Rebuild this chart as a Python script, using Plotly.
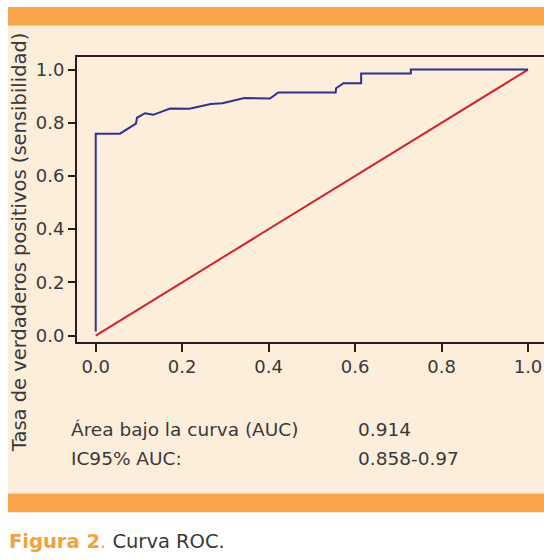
import plotly.graph_objects as go

# ROC curve
fpr = [0.0, 0.0, 0.056, 0.093, 0.0955, 0.114, 0.133, 0.172, 0.2165, 0.266, 0.293,
       0.344, 0.403, 0.4225, 0.555, 0.556, 0.573, 0.614, 0.614, 0.729, 0.729, 1.0]
tpr = [0.015, 0.759, 0.759, 0.797, 0.819, 0.836, 0.830, 0.854, 0.853, 0.871, 0.874,
       0.893, 0.891, 0.914, 0.914, 0.930, 0.949, 0.949, 0.985, 0.985, 1.0, 1.0]
ref_x = [0.0, 1.0]
ref_y = [0.0, 1.0]
tick_vals = [0.0, 0.2, 0.4, 0.6, 0.8, 1.0]
tick_text = ["0.0", "0.2", "0.4", "0.6", "0.8", "1.0"]
stats_labels = ["Área bajo la curva (AUC)", "IC95% AUC:"]
stats_values = ["0.914", "0.858-0.97"]

W, H = 544, 560
FONT = "DejaVu Sans"
DARK = "#231f20"
TXT = "#3b3838"
ORANGE = "#f9a54a"
CREAM = "#fdeedb"

def px(x):
    return x / W

def py(y):
    return 1 - y / H

fig = go.Figure()
fig.add_trace(go.Scatter(x=ref_x, y=ref_y, mode="lines",
                         line=dict(color="#d2232a", width=2), showlegend=False))
fig.add_trace(go.Scatter(x=fpr, y=tpr, mode="lines",
                         line=dict(color="#2e3192", width=2), showlegend=False))

shapes = [
    dict(type="rect", xref="paper", yref="paper", x0=px(8), x1=1, y0=py(26), y1=py(7),
         fillcolor=ORANGE, line=dict(width=0), layer="below"),
    dict(type="rect", xref="paper", yref="paper", x0=px(8), x1=1, y0=py(497), y1=py(26),
         fillcolor=CREAM, line=dict(width=0), layer="below"),
    dict(type="rect", xref="paper", yref="paper", x0=px(8), x1=1, y0=py(516), y1=py(497),
         fillcolor=ORANGE, line=dict(width=0), layer="below"),
]

annotations = [
    dict(text="Tasa de verdaderos positivos (sensibilidad)", xref="paper", yref="paper",
         x=px(19), y=py(244), textangle=-90, showarrow=False,
         font=dict(family=FONT, size=19.5, color=TXT), xanchor="center", yanchor="middle"),
    dict(text="<span style='color:#f7a03c'><b>Figura 2</b>.</span> Curva ROC.",
         xref="paper", yref="paper", x=px(7), y=py(545), showarrow=False,
         xanchor="left", yanchor="middle", font=dict(family=FONT, size=19.5, color=TXT)),
]
for i, (lab, val) in enumerate(zip(stats_labels, stats_values)):
    yy = py(433 + 29 * i)
    annotations.append(dict(text=lab, xref="paper", yref="paper", x=px(69), y=yy,
                            showarrow=False, xanchor="left", yanchor="middle",
                            font=dict(family=FONT, size=18.5, color=TXT)))
    annotations.append(dict(text=val, xref="paper", yref="paper", x=px(356), y=yy,
                            showarrow=False, xanchor="left", yanchor="middle",
                            font=dict(family=FONT, size=18.5, color=TXT)))

fig.update_layout(
    width=W, height=H,
    margin=dict(l=0, r=0, t=0, b=0),
    paper_bgcolor="white",
    plot_bgcolor="rgba(0,0,0,0)",
    shapes=shapes,
    annotations=annotations,
    xaxis=dict(domain=[px(77), 1], range=[-0.0433, 1.037], tickvals=tick_vals,
               ticktext=tick_text, showline=True, linecolor=DARK, linewidth=2,
               mirror=True, ticks="outside", ticklen=8, tickwidth=1.5, tickcolor=DARK,
               showgrid=False, zeroline=False,
               tickfont=dict(family=FONT, size=18, color=TXT)),
    yaxis=dict(domain=[py(344), py(57)], range=[-0.0225, 1.049], tickvals=tick_vals,
               ticktext=tick_text, showline=True, linecolor=DARK, linewidth=2,
               mirror=False, ticks="outside", ticklen=7, tickwidth=1.5, tickcolor=DARK,
               showgrid=False, zeroline=False,
               tickfont=dict(family=FONT, size=18, color=TXT)),
)

fig.write_html(
    "out.html",
    config={"displayModeBar": False},
    post_script="document.body.style.margin='0';"
                "document.documentElement.style.overflow='hidden';"
                "document.body.style.overflow='hidden';",
)
